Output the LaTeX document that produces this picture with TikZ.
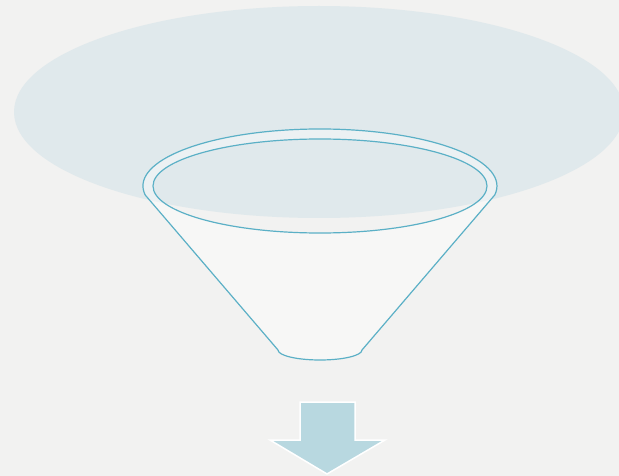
\documentclass[tikz,border=0pt]{standalone}
\usetikzlibrary{positioning}

\definecolor{paper}{HTML}{F2F2F1}
\definecolor{cloud}{HTML}{E0E9EC}
\definecolor{rim}{HTML}{5BB0C6}
\definecolor{arrowblue}{HTML}{B8D8E0}

\tikzset{
  funnelfill/.style={fill=white, fill opacity=0.4, even odd rule},
  funnelline/.style={draw=rim, line width=1.2pt},
  downarrow/.style={fill=arrowblue, draw=white, line width=1.5pt, line join=miter}
}

\begin{document}
\begin{tikzpicture}[x=1pt, y=-1pt]
\fill[paper] (0,0) rectangle (619,476);
\useasboundingbox (0,0) rectangle (619,476);
% big cloud behind the funnel
\fill[cloud] (319,112) ellipse [x radius=305, y radius=106];
% funnel body, hole at the mouth
\fill[funnelfill] (278,350) -- (145.2,195)
  arc [start angle=189.1, end angle=-9.1, x radius=177, y radius=-57]
  -- (362,350)
  arc [start angle=0, end angle=-180, x radius=42, y radius=-10] -- cycle
  (320,186) ellipse [x radius=167, y radius=47];
% funnel outline
\draw[funnelline] (278,350) -- (145.2,195)
  arc [start angle=189.1, end angle=-9.1, x radius=177, y radius=-57]
  -- (362,350)
  arc [start angle=0, end angle=-180, x radius=42, y radius=-10];
\draw[funnelline] (320,186) ellipse [x radius=167, y radius=47];
% arrow below
\draw[downarrow] (300,402) -- (355,402) -- (355,440) -- (385,440)
  -- (327,474) -- (270,440) -- (300,440) -- cycle;
\end{tikzpicture}
\end{document}
